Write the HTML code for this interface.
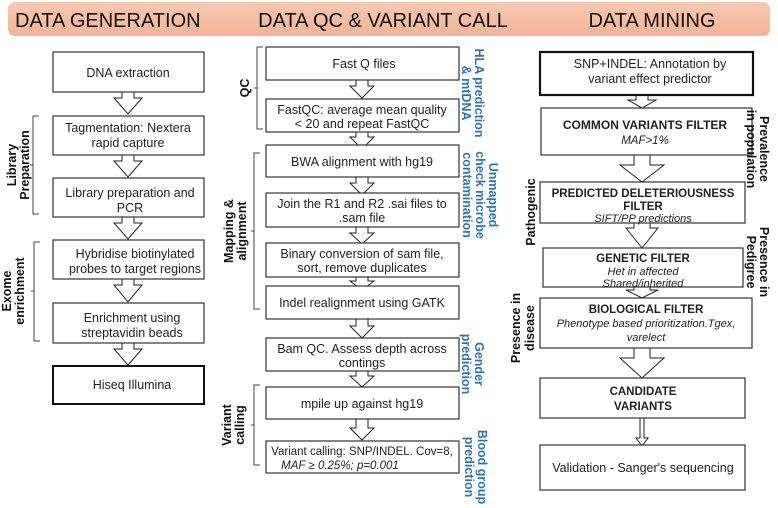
<!DOCTYPE html>
<html><head><meta charset="utf-8"><style>
html,body{margin:0;padding:0;background:#fff}
svg{display:block;font-family:"Liberation Sans",sans-serif}
</style></head><body>
<svg width="778" height="508" viewBox="0 0 778 508" xmlns="http://www.w3.org/2000/svg">
<defs><linearGradient id="g" x1="0" y1="0" x2="0" y2="1"><stop offset="0" stop-color="#f8c9b2"/><stop offset="1" stop-color="#f2b396"/></linearGradient></defs>
<rect x="8" y="2" width="762" height="34" rx="7" fill="url(#g)"/>
<g font-size="20" fill="#111">
<text x="15" y="27">DATA GENERATION</text>
<text x="383" y="27" text-anchor="middle">DATA QC &amp; VARIANT CALL</text>
<text x="652" y="27" text-anchor="middle">DATA MINING</text>
</g>
<!-- arrows -->
<g fill="#fff" stroke="#222" stroke-width="1">
<!-- col1 cx 128 -->
<polygon points="122,90 134,90 134,98 142,98 128,114 114,98 122,98"/>
<polygon points="122,153 134,153 134,161 142,161 128,177 114,161 122,161"/>
<polygon points="122,215 134,215 134,223 142,223 128,239 114,223 122,223"/>
<polygon points="122,277 134,277 134,285 142,285 128,302 114,285 122,285"/>
<polygon points="122,341 134,341 134,349 142,349 128,365 114,349 122,349"/>
<!-- col2 cx 362 -->
<polygon points="356,80 368,80 368,86 374,86 362,98 350,86 356,86"/>
<polygon points="356,132 368,132 368,137 374,137 362,149 350,137 356,137"/>
<polygon points="356,177 368,177 368,183 374,183 362,195 350,183 356,183"/>
<polygon points="356,227 368,227 368,233 374,233 362,244 350,233 356,233"/>
<polygon points="356,277 368,277 368,281 374,281 362,290 350,281 356,281"/>
<polygon points="356,319 368,319 368,326 374,326 362,338 350,326 356,326"/>
<polygon points="356,371 368,371 368,376 374,376 362,387 350,376 356,376"/>
<polygon points="356,419 368,419 368,428 374,428 362,440 350,428 356,428"/>
<!-- col3 cx 642 -->
<polygon points="636,95 648,95 648,100 656,100 642,108 628,100 636,100"/>
<polygon points="634,155 650,155 650,165 664,165 642,182 620,165 634,165"/>
<polygon points="634,223 650,223 650,228 658,228 642,248 626,228 634,228"/>
<polygon points="634,287 650,287 650,290 658,290 642,298 626,290 634,290"/>
<polygon points="634,348 650,348 650,358 664,358 642,378 620,358 634,358"/>
<polygon points="640,418 644,418 644,438 648,438 642,446 636,438 640,438"/>
</g>
<!-- boxes -->
<g fill="#fff" stroke="#333" stroke-width="1.2">
<rect x="53" y="52" width="151" height="40"/>
<rect x="53" y="116" width="151" height="39"/>
<rect x="53" y="178" width="151" height="39"/>
<rect x="53" y="240" width="151" height="39"/>
<rect x="53" y="303" width="151" height="40"/>
<rect x="53" y="366" width="151" height="38" stroke-width="2" stroke="#111"/>
<rect x="266" y="47" width="193" height="33"/>
<rect x="266" y="99" width="193" height="33"/>
<rect x="266" y="145" width="193" height="32"/>
<rect x="266" y="193" width="193" height="34"/>
<rect x="266" y="243" width="193" height="34"/>
<rect x="266" y="286" width="193" height="33"/>
<rect x="266" y="338" width="193" height="33"/>
<rect x="266" y="387" width="193" height="32"/>
<rect x="266" y="441" width="193" height="32"/>
<rect x="540" y="52" width="213" height="43" stroke-width="2.2" stroke="#111"/>
<rect x="541" y="108" width="211" height="47"/>
<rect x="540" y="182" width="205" height="41"/>
<rect x="543" y="248" width="200" height="39"/>
<rect x="540" y="298" width="212" height="50"/>
<rect x="540" y="378" width="205" height="40"/>
<rect x="540" y="445" width="205" height="45"/>
</g>
<!-- brackets -->
<g fill="none" stroke="#444" stroke-width="1">
<path d="M39,116 H33 V214 H39 M33,165 H30"/>
<path d="M40,242 H34 V341 H40 M34,291 H31"/>
<path d="M263,47 H257 V129 H263 M257,88 H254"/>
<path d="M260,153 H254 V309 H260 M254,231 H251"/>
<path d="M260,385 H254 V465 H260 M254,425 H251"/>
</g>
<!-- box text -->
<g font-size="12.5" fill="#222" text-anchor="middle">
<text x="128" y="77">DNA extraction</text>
<text x="128" y="132">Tagmentation: Nextera</text><text x="128" y="147">rapid capture</text>
<text x="130" y="197">Library preparation and</text><text x="130" y="212">PCR</text>
<text x="135" y="258">Hybridise biotinylated</text><text x="135" y="273">probes to target regions</text>
<text x="132" y="322">Enrichment using</text><text x="132" y="337">streptavidin beads</text>
<text x="132" y="389">Hiseq Illumina</text>
<text x="364" y="68">Fast Q files</text>
<text x="362" y="114">FastQC: average mean quality</text><text x="362" y="128">&lt; 20 and repeat FastQC</text>
<text x="362" y="166">BWA alignment with hg19</text>
<text x="362" y="208">Join the R1 and R2 .sai  files to</text><text x="362" y="222">.sam file</text>
<text x="362" y="258">Binary conversion of sam file,</text><text x="362" y="272">sort, remove duplicates</text>
<text x="362" y="307">Indel realignment using GATK</text>
<text x="362" y="353">Bam QC. Assess depth across</text><text x="362" y="367">contings</text>
<text x="362" y="408">mpile  up against hg19</text>
<text x="362" y="455" font-size="11.5">Variant calling: SNP/INDEL. Cov=8,</text>
<text x="340" y="469" font-size="11.5" font-style="italic">MAF ≥ 0.25%; p=0.001</text>
<text x="650" y="68">SNP+INDEL: Annotation by</text><text x="650" y="83">variant effect predictor</text>
<text x="645" y="129" font-weight="bold" font-size="12">COMMON VARIANTS FILTER</text>
<text x="645" y="144" font-style="italic" font-size="11.5">MAF&gt;1%</text>
<text x="643" y="197" font-weight="bold" font-size="11.5">PREDICTED DELETERIOUSNESS</text>
<text x="643" y="210" font-weight="bold" font-size="11.5">FILTER</text>
<text x="643" y="222" font-style="italic" font-size="11">SIFT/PP predictions</text>
<text x="643" y="262" font-weight="bold" font-size="11.5">GENETIC FILTER</text>
<text x="643" y="275" font-style="italic" font-size="11">Het in affected</text>
<text x="643" y="287" font-style="italic" font-size="11">Shared/inherited</text>
<text x="646" y="313" font-weight="bold" font-size="11.5">BIOLOGICAL FILTER</text>
<text x="646" y="327" font-style="italic" font-size="11">Phenotype based prioritization.Tgex,</text>
<text x="646" y="341" font-style="italic" font-size="11">varelect</text>
<text x="643" y="395" font-weight="bold" font-size="11.5">CANDIDATE</text>
<text x="643" y="410" font-weight="bold" font-size="11.5">VARIANTS</text>
<text x="643" y="472">Validation - Sanger's sequencing</text>
</g>
<!-- side labels (rotated CCW) -->
<g font-size="12.5" font-weight="bold" fill="#111" text-anchor="middle">
<text transform="translate(16,165) rotate(-90)">Library</text>
<text transform="translate(29,165) rotate(-90)">Preparation</text>
<text transform="translate(11,291) rotate(-90)">Exome</text>
<text transform="translate(24,291) rotate(-90)">enrichment</text>
<text transform="translate(249,88) rotate(-90)">QC</text>
<text transform="translate(233,231) rotate(-90)">Mapping &amp;</text>
<text transform="translate(246,231) rotate(-90)">alignment</text>
<text transform="translate(231,425) rotate(-90)">Variant</text>
<text transform="translate(244,425) rotate(-90)">calling</text>
<text transform="translate(535,212) rotate(-90)">Pathogenic</text>
<text transform="translate(520,328) rotate(-90)">Presence in</text>
<text transform="translate(534,328) rotate(-90)">disease</text>
</g>
<!-- rotated CW -->
<g font-size="12.5" font-weight="bold" text-anchor="middle">
<g fill="#111">
<text transform="translate(760,149) rotate(90)">Prevalence</text>
<text transform="translate(747,149) rotate(90)">in population</text>
<text transform="translate(760,262) rotate(90)">Presence in</text>
<text transform="translate(747,262) rotate(90)">Pedigree</text>
</g>
<g fill="#2e74b5">
<text transform="translate(475,93) rotate(90)">HLA prediction</text>
<text transform="translate(462,93) rotate(90)">&amp; mtDNA</text>
<text transform="translate(489,195) rotate(90)">Unmapped</text>
<text transform="translate(476,195) rotate(90)">check microbe</text>
<text transform="translate(463,195) rotate(90)">contamination</text>
<text transform="translate(475,364) rotate(90)">Gender</text>
<text transform="translate(462,364) rotate(90)">prediction</text>
<text transform="translate(478,467) rotate(90)">Blood group</text>
<text transform="translate(465,467) rotate(90)">prediction</text>
</g>
</g>
</svg>
</body></html>
